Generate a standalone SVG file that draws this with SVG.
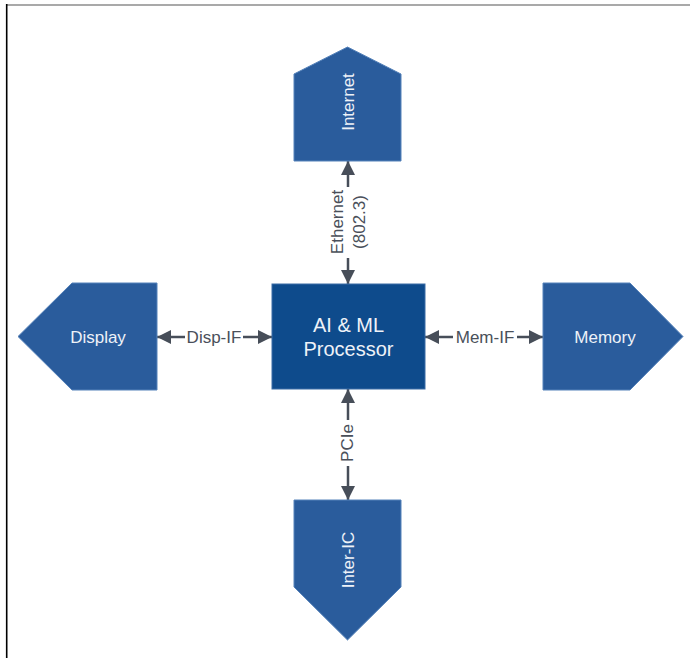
<svg xmlns="http://www.w3.org/2000/svg" width="690" height="658" viewBox="0 0 690 658">
  <style>
    .node { fill: #2a5c9c; stroke: #5582ba; stroke-width: 1; }
    .core { fill: #0e4b8c; stroke: #3a6ca6; stroke-width: 1; }
    .ntext { font-family: "Liberation Sans", Arial, sans-serif; font-size: 17px; fill: #eef2f8; text-anchor: middle; dominant-baseline: central; }
    .ctext { font-family: "Liberation Sans", Arial, sans-serif; font-size: 20px; fill: #eef2f8; text-anchor: middle; dominant-baseline: central; }
    .ltext { font-family: "Liberation Sans", Arial, sans-serif; font-size: 17px; fill: #4a505a; text-anchor: middle; dominant-baseline: central; }
    .wire { stroke: #474e59; stroke-width: 2.5; fill: none; marker-end: url(#head); }
  </style>
  <defs>
    <marker id="head" markerUnits="userSpaceOnUse" markerWidth="14" markerHeight="14" refX="14" refY="7" orient="auto">
      <path d="M0,0 L14,7 L0,14 Z" fill="#474e59"/>
    </marker>
  </defs>

  <rect width="690" height="658" fill="#ffffff"/>
  <!-- frame -->
  <line x1="6" y1="5" x2="690" y2="5" stroke="#555555" stroke-width="1.2"/>
  <line x1="6.7" y1="4" x2="6.7" y2="658" stroke="#000000" stroke-width="1.6"/>

  <!-- connectors -->
  <g id="connectors">
    <!-- Ethernet (802.3) -->
    <line class="wire" x1="348" y1="187" x2="348" y2="161"/>
    <line class="wire" x1="348" y1="258" x2="348" y2="284"/>
    <text class="ltext" transform="translate(348,222) rotate(-90)"><tspan x="0" y="-11">Ethernet</tspan><tspan x="0" y="11">(802.3)</tspan></text>
    <!-- Disp-IF -->
    <line class="wire" x1="185" y1="337" x2="157" y2="337"/>
    <line class="wire" x1="243" y1="337" x2="272" y2="337"/>
    <text class="ltext" x="214" y="337">Disp-IF</text>
    <!-- Mem-IF -->
    <line class="wire" x1="453" y1="337" x2="425" y2="337"/>
    <line class="wire" x1="517" y1="337" x2="543" y2="337"/>
    <text class="ltext" x="485" y="337">Mem-IF</text>
    <!-- PCIe -->
    <line class="wire" x1="348" y1="420" x2="348" y2="389"/>
    <line class="wire" x1="348" y1="466" x2="348" y2="500"/>
    <text class="ltext" transform="translate(347,443) rotate(-90)">PCIe</text>
  </g>

  <g id="processor">
    <rect class="core" x="272" y="284" width="153" height="105"/>
    <text class="ctext" x="348.5" y="325">AI &amp; ML</text>
    <text class="ctext" x="348.5" y="349">Processor</text>
  </g>

  <g id="internet">
    <polygon class="node" points="294,161 294,74 347.5,47 401,74 401,161"/>
    <text class="ntext" transform="translate(348,102) rotate(-90)">Internet</text>
  </g>

  <g id="display">
    <polygon class="node" points="157,283 72,283 18,336.5 72,390 157,390"/>
    <text class="ntext" x="98" y="337">Display</text>
  </g>

  <g id="memory">
    <polygon class="node" points="543,283 630,283 683,336.5 630,390 543,390"/>
    <text class="ntext" x="605" y="337">Memory</text>
  </g>

  <g id="inter-ic">
    <polygon class="node" points="294,500 401,500 401,587 347.5,640 294,587"/>
    <text class="ntext" transform="translate(348,560) rotate(-90)">Inter-IC</text>
  </g>
</svg>
